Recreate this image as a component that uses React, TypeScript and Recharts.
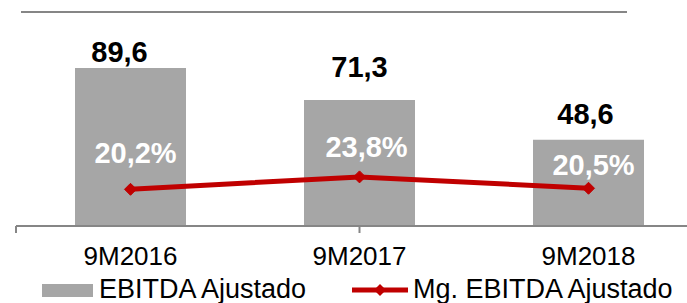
import React from 'react';
import {
  ComposedChart,
  Bar,
  Line,
  XAxis,
  YAxis,
  LabelList
} from 'recharts';

// values
const periods = ['9M2016', '9M2017', '9M2018'];
const ebitdaAjustado = [89.6, 71.3, 48.6];
const margemEbitda = [20.2, 23.8, 20.5];
const edgeTicks = [0, 1, 2, 3];

// manual nudges of the labels, like the hand-placed ones in the original
const barLabelShift = [[-11, -6], [0, -23], [-3, -16]];
const pctLabelShift = [[5, -26], [7, -20], [5, -13]];

const data = periods.map((name, i) => ({
  name,
  ebitda: ebitdaAjustado[i],
  margem: margemEbitda[i]
}));

const FONT = '"Liberation Sans", Arial, sans-serif';
const GREY_BAR = '#A6A6A6';
const AXIS_GREY = '#868686';
const RED = '#C00000';

const fmt = (v: number, suffix = '') => v.toFixed(1).replace('.', ',') + suffix;

const BarValueLabel = (props: any) => {
  const { x, y, width, value, index } = props;
  const [dx, dy] = barLabelShift[index] || [0, -8];
  return (
    <text
      x={x + width / 2 + dx}
      y={y + dy}
      textAnchor="middle"
      fontFamily={FONT}
      fontWeight="bold"
      fontSize={29}
      fill="#000"
    >
      {fmt(value)}
    </text>
  );
};

const PctLabel = (props: any) => {
  const { x, y, value, index } = props;
  const [dx, dy] = pctLabelShift[index] || [0, -16];
  return (
    <text
      x={x + dx}
      y={y + dy}
      textAnchor="middle"
      fontFamily={FONT}
      fontWeight="bold"
      fontSize={29}
      fill="#fff"
    >
      {fmt(value, '%')}
    </text>
  );
};

const DiamondDot = (props: any) => {
  const { cx, cy } = props;
  if (cx == null || cy == null) return null;
  const r = 6;
  return (
    <polygon
      points={`${cx},${cy - r} ${cx + r},${cy} ${cx},${cy + r} ${cx - r},${cy}`}
      fill={RED}
      stroke={RED}
    />
  );
};

const ChartLegend = () => (
  <div style={{ position: 'absolute', left: 0, top: 274, width: 687, height: 30, fontFamily: FONT, fontSize: 27, lineHeight: '30px', color: '#000' }}>
    <div style={{ position: 'absolute', left: 42, top: 10, width: 51, height: 13, background: GREY_BAR }} />
    <div style={{ position: 'absolute', left: 99, top: 0, whiteSpace: 'nowrap' }}>EBITDA Ajustado</div>
    <svg style={{ position: 'absolute', left: 350, top: 8 }} width={60} height={16}>
      <line x1={2} y1={8} x2={58} y2={8} stroke={RED} strokeWidth={5} />
      <polygon points="30,2 36,8 30,14 24,8" fill={RED} />
    </svg>
    <div style={{ position: 'absolute', left: 413, top: 0, whiteSpace: 'nowrap' }}>Mg. EBITDA Ajustado</div>
  </div>
);

const App: React.FC = () => {
  return (
    <div style={{ position: 'fixed', left: 0, top: 0, width: 687, height: 303, overflow: 'hidden', background: '#fff', fontFamily: FONT }}>
      <div style={{ position: 'absolute', left: 21, top: 11, width: 606, height: 2, background: AXIS_GREY }} />
      <ComposedChart
        width={720}
        height={303}
        data={data}
        margin={{ top: 12, right: 17, left: 16, bottom: 76 }}
      >
        <XAxis
          xAxisId="edges"
          type="number"
          domain={[0, 3]}
          ticks={edgeTicks}
          allowDataOverflow
          height={1}
          tickSize={7}
          tickFormatter={() => ''}
          axisLine={{ stroke: AXIS_GREY, strokeWidth: 2 }}
          tickLine={{ stroke: AXIS_GREY, strokeWidth: 2 }}
        />
        <XAxis
          dataKey="name"
          height={1}
          axisLine={false}
          tickLine={false}
          tickSize={6}
          tickMargin={16}
          interval={0}
          tick={{ fill: '#000', fontSize: 26, fontFamily: FONT }}
        />
        <YAxis yAxisId="left" hide domain={[0, 121.6]} allowDataOverflow />
        <YAxis yAxisId="right" orientation="right" hide domain={[9.85, 71.6]} allowDataOverflow />
        <Bar yAxisId="left" dataKey="ebitda" fill={GREY_BAR} barSize={111} isAnimationActive={false}>
          <LabelList dataKey="ebitda" content={<BarValueLabel />} />
        </Bar>
        <Line
          yAxisId="right"
          type="linear"
          dataKey="margem"
          stroke={RED}
          strokeWidth={5}
          dot={<DiamondDot />}
          activeDot={false}
          isAnimationActive={false}
        >
          <LabelList dataKey="margem" content={<PctLabel />} />
        </Line>
      </ComposedChart>
      <ChartLegend />
    </div>
  );
};

export default App;
